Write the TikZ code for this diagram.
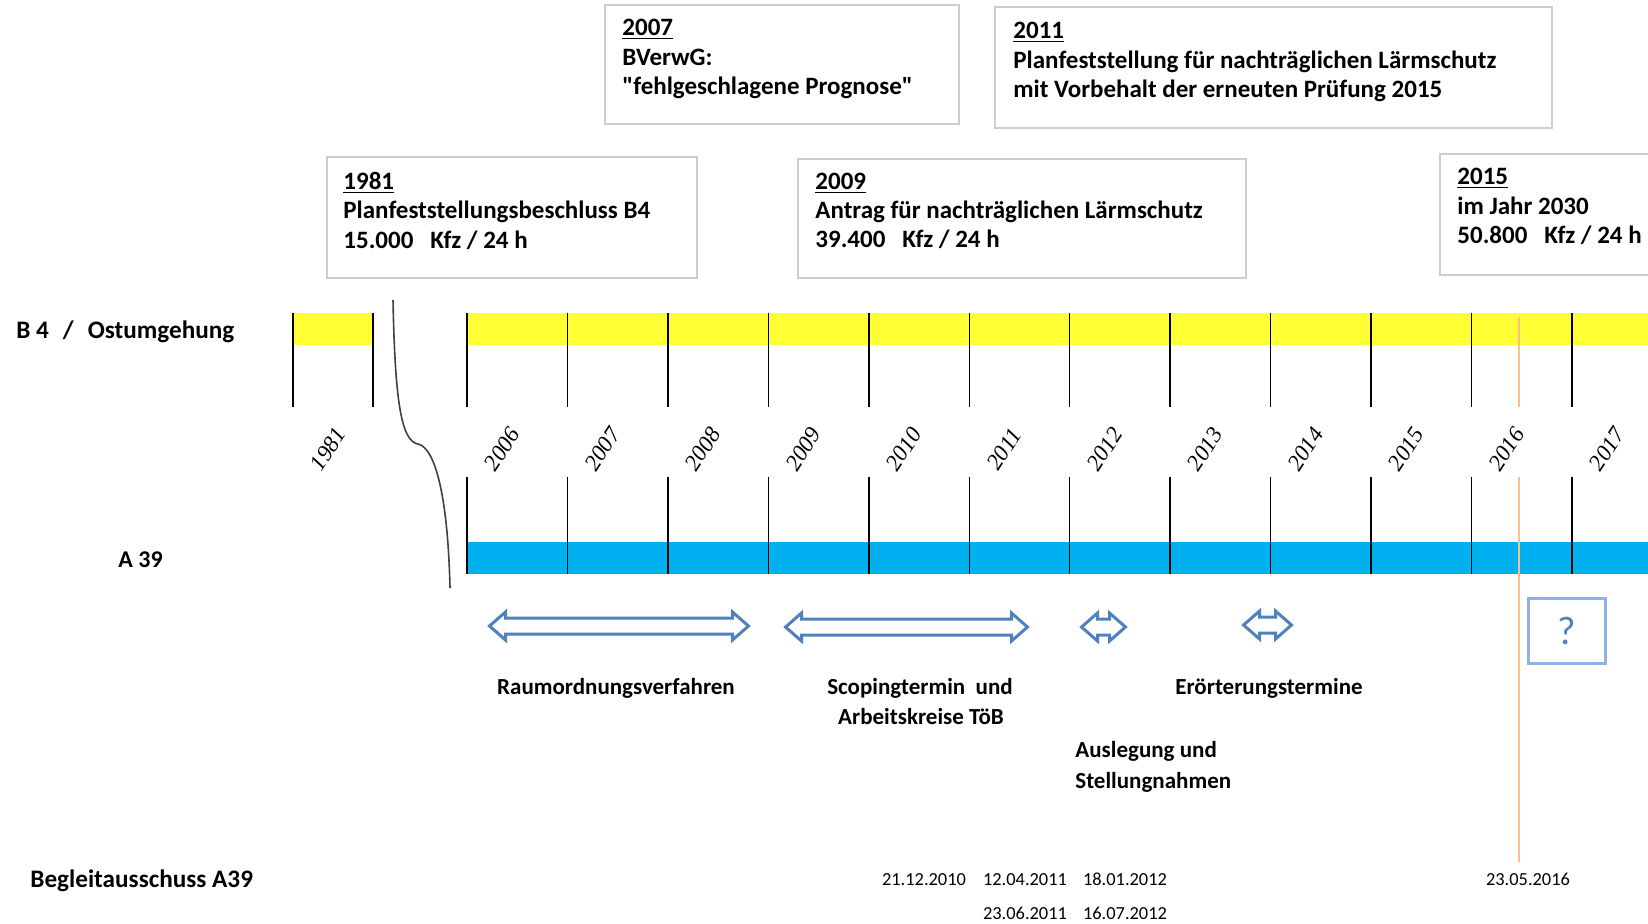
\documentclass[tikz,border=0pt]{standalone}
\usepackage{fontspec}
\setmainfont{Carlito}
\newfontfamily\quotefont{Carlito}[Ligatures=TeXOff]
\newfontfamily\yearfont{Liberation Serif}
\definecolor{bandyellow}{RGB}{255,255,51}
\definecolor{bandblue}{RGB}{0,176,240}
\definecolor{arrowblue}{RGB}{79,129,189}
\definecolor{qblue}{RGB}{141,179,226}
\definecolor{boxgray}{RGB}{205,205,205}
\definecolor{orangeline}{RGB}{250,192,144}
\newcommand{\hollowdbl}[4]{%
  \draw[hollowarrow] ({#1-#3},#2) -- ++(16,-14) -- ++(0,6) -- ({#1+#3-16},{#2-8}) -- ++(0,-6) -- ({#1+#3},#2)
    -- ({#1+#3-16},{#2+14}) -- ++(0,-6) -- ({#1-#3+16},{#2+8}) -- ++(0,6) -- cycle;}
\begin{document}
\begin{tikzpicture}[x=0.5pt,y=-0.5pt,
  infobox/.style={draw=boxgray, line width=1pt, anchor=north west, inner sep=0pt, outer sep=0pt},
  boxline/.style={anchor=base west, inner sep=0pt, font=\fontsize{12.5}{15}\selectfont\bfseries},
  rowlabel/.style={anchor=base west, inner sep=0pt, font=\fontsize{12.6}{15}\selectfont\bfseries},
  proclabel/.style={anchor=base, inner sep=0pt, font=\fontsize{11.5}{14}\selectfont\bfseries},
  procleft/.style={anchor=base west, inner sep=0pt, font=\fontsize{11.5}{14}\selectfont\bfseries},
  datelabel/.style={anchor=base, inner sep=0pt, font=\fontsize{9.2}{11}\selectfont},
  yearlabel/.style={rotate=57, inner sep=0pt, font=\yearfont\itshape\fontsize{11.5}{13}\selectfont},
  ticksty/.style={draw=black, line width=0.75pt},
  hollowarrow/.style={draw=arrowblue, line width=1.5pt, fill=white, line join=miter}
]
\useasboundingbox (0,0) rectangle (1648,923);
\begin{scope}
\clip (0,0) rectangle (1648,923);

% info boxes
\node[infobox, minimum width=177pt, minimum height=59.5pt] (box07) at (605,5) {};
\node[boxline] (box07a) at (622,35) {\underline{2007}};
\node[boxline] (box07b) at (622,65) {BVerwG:};
\node[boxline, font=\quotefont\fontsize{12.5}{15}\selectfont\bfseries] (box07c) at (622,94) {"fehlgeschlagene Prognose"};

\node[infobox, minimum width=278.5pt, minimum height=60.5pt] (box11) at (995,7) {};
\node[boxline] (box11a) at (1013,38) {\underline{2011}};
\node[boxline] (box11b) at (1013,68) {Planfeststellung für nachträglichen Lärmschutz};
\node[boxline] (box11c) at (1013,97) {mit Vorbehalt der erneuten Prüfung 2015};

\node[infobox, minimum width=185pt, minimum height=60.5pt] (box81) at (327,157) {};
\node[boxline] (box81a) at (343,189) {\underline{1981}};
\node[boxline] (box81b) at (343,218) {Planfeststellungsbeschluss B4};
\node[boxline] (box81c) at (343,248) {15.000\ \ \ Kfz / 24 h};

\node[infobox, minimum width=224pt, minimum height=59.5pt] (box09) at (798,159) {};
\node[boxline] (box09a) at (815,189) {\underline{2009}};
\node[boxline] (box09b) at (815,218) {Antrag für nachträglichen Lärmschutz};
\node[boxline] (box09c) at (815,247) {39.400\ \ \ Kfz / 24 h};

\node[infobox, minimum width=120pt, minimum height=60.5pt] (box15) at (1440,154) {};
\node[boxline] (box15a) at (1457,184) {\underline{2015}};
\node[boxline] (box15b) at (1457,214) {im Jahr 2030};
\node[boxline] (box15c) at (1457,243) {50.800\ \ \ Kfz / 24 h};

% bands
\fill[bandyellow] (293,313) rectangle (373,345);
\fill[bandyellow] (467,313) rectangle (1660,345);
\fill[bandblue] (467,542) rectangle (1660,574);

% ticks
\foreach \x in {293,373} \draw[ticksty] (\x,313) -- (\x,407);
\foreach \i in {0,...,11} {
  \pgfmathsetmacro\tx{467+100.45*\i}
  \draw[ticksty] (\tx,313) -- (\tx,407);
  \draw[ticksty] (\tx,477) -- (\tx,574);
}

% year labels
\node[yearlabel] (yr1981) at (328,449) {1981};
\foreach \yr [count=\i from 0] in {2006,...,2017} {
  \pgfmathsetmacro\lx{467+100.45*\i+35}
  \node[yearlabel] (yr\yr) at (\lx,449) {\yr};
}

% break curve
\draw[line width=0.8pt, black!75] (393,300) .. controls (395,400) and (401,441) .. (418,444)
  .. controls (436,448) and (448,500) .. (450,588);

% 2016 marker line
\draw[orangeline, line width=1pt] (1519,317) -- (1519,407);
\draw[orangeline, line width=1pt] (1519,477) -- (1519,862);

% row labels
\node[rowlabel] (lblB4) at (16,338) {B 4\hspace{7pt}/\hspace{7pt}Ostumgehung};
\node[rowlabel, font=\fontsize{12}{14}\selectfont\bfseries] (lblA39) at (118,567) {A 39};
\node[rowlabel] (lblBeg) at (30,887) {Begleitausschuss A39};

% process arrows
\hollowdbl{619}{626}{129.5}{}
\hollowdbl{906.5}{627}{121}{}
\hollowdbl{1103.5}{627}{22}{}
\hollowdbl{1267.5}{625}{24}{}

\node[draw=qblue, line width=1.25pt, minimum width=38.5pt, minimum height=32.5pt, anchor=north west,
  inner sep=0pt, text=arrowblue, font=\fontsize{20}{22}\selectfont] (qbox) at (1527,597) {?};

% process labels
\node[proclabel] (pRaum) at (616,694) {Raumordnungsverfahren};
\node[proclabel] (pScop) at (920,694) {Scopingtermin\ \ und};
\node[proclabel] (pArb) at (921,724) {Arbeitskreise TöB};
\node[proclabel] (pEroe) at (1269,694) {Erörterungstermine};
\node[procleft] (pAus) at (1075,757) {Auslegung und};
\node[procleft] (pStel) at (1075,788) {Stellungnahmen};

% dates
\node[datelabel] (d1) at (924,885) {21.12.2010};
\node[datelabel] (d2) at (1025,885) {12.04.2011};
\node[datelabel] (d3) at (1125,885) {18.01.2012};
\node[datelabel] (d4) at (1025,919) {23.06.2011};
\node[datelabel] (d5) at (1125,919) {16.07.2012};
\node[datelabel] (d6) at (1528,885) {23.05.2016};
\end{scope}
\end{tikzpicture}
\end{document}
